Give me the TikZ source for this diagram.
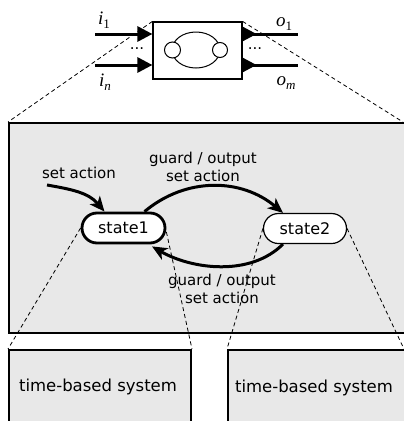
\documentclass[tikz,border=0pt]{standalone}
\usepackage{fontspec}
\setmainfont{DejaVu Sans}
\newfontfamily\tms{Liberation Serif}
\usetikzlibrary{arrows.meta}
\definecolor{panel}{HTML}{E8E8E8}
\newcommand{\iolab}[2]{{\tms\fontsize{19}{20}\selectfont\itshape #1}\raisebox{-4.5pt}{\tms\fontsize{13}{14}\selectfont #2}}
\begin{document}
\begin{tikzpicture}[x=1pt,y=1pt,
  lab/.style={font=\fontsize{15}{18}\selectfont, align=center, inner sep=0},
  mlab/.style={inner sep=0},
  dsh/.style={dash pattern=on 4pt off 3pt, line width=0.8pt},
  statebox/.style={draw, fill=white, rounded corners=15pt, minimum width=83pt, minimum height=30pt, inner sep=0, font=\fontsize{16}{16}\selectfont},
  boxframe/.style={draw, fill=panel, line width=2pt},
  ioline/.style={line width=3pt},
  ioarrow/.style={line width=3pt, -{Triangle[length=15pt,width=15pt]}},
  flow/.style={line width=3pt, -{Stealth[length=15pt,width=13pt,inset=4pt]}}]
\useasboundingbox (0,0) rectangle (404,-421);

% top block
\node[draw, line width=1.2pt, fill=white, minimum width=89pt, minimum height=57pt, inner sep=0] (blk) at (197.5,-50.5) {};
\draw[line width=1pt] (196,-50) ellipse [x radius=24, y radius=18];
\node[circle, draw, line width=1pt, fill=white, minimum size=16pt, inner sep=0] (c1) at (172.5,-50) {};
\node[circle, draw, line width=1pt, fill=white, minimum size=15pt, inner sep=0] (c2) at (220,-50) {};

\coordinate (in1) at (95,-34);
\coordinate (inn) at (95,-65);
\coordinate (out1) at (298,-34);
\coordinate (outm) at (298,-65);
\draw[ioarrow] (in1) -- (blk.west |- in1);
\draw[ioarrow] (inn) -- (blk.west |- inn);
\draw[ioline] (blk.east |- out1) -- (out1);
\draw[ioline] (blk.east |- outm) -- (outm);
\draw[ioarrow] (blk.east |- out1) -- ++(14,0);
\draw[ioarrow] (blk.east |- outm) -- ++(14,0);

\node[mlab] (li1) at (104,-20) {\iolab{i}{1}};
\node[mlab] (lin) at (105,-82) {\iolab{i}{\itshape n}};
\node[mlab] (lo1) at (284,-24) {\iolab{o}{1}};
\node[mlab] (lom) at (286,-83) {\iolab{o}{\itshape m}};
\node[lab] (dl) at (137,-49) {...};
\node[lab] (dr) at (255,-49) {...};

% panels
\node[boxframe, minimum width=402pt, minimum height=210pt, anchor=north west, inner sep=0] (pan) at (8,-122) {};
\node[boxframe, minimum width=182pt, minimum height=90pt, anchor=north west, inner sep=0] (lb) at (8,-349) {};
\node[boxframe, minimum width=190pt, minimum height=90pt, anchor=north west, inner sep=0] (rb) at (227,-349) {};
\node[font=\fontsize{16.5}{18}\selectfont, inner sep=0] (lbt) at (98,-387) {time-based system};
\node[font=\fontsize{16.5}{18}\selectfont, inner sep=0] (rbt) at (314,-388) {time-based system};

\coordinate (pcr) at (403,-122);
\coordinate (rbc) at (404,-349);
\draw[dsh] (blk.north west) -- (pan.north west);
\draw[dsh] (blk.north east) -- (pcr);

% states
\node[statebox, line width=2.8pt] (s1) at (123.5,-228) {state1};
\node[statebox, line width=1.2pt] (s2) at (305,-228.5) {state2};

\draw[dsh] (s1.west) -- (lb.north west);
\draw[dsh] ([yshift=-4pt]s1.east) -- (lb.north east);
\draw[dsh] (s2.west) -- (rb.north west);
\draw[dsh] (s2.east) -- (rbc);

\coordinate (sa) at (47,-185);
\draw[flow] (sa) to[out=-10,in=130] ([xshift=-19pt]s1.north);
\draw[flow] ([xshift=21pt]s1.north) to[out=40,in=140] ([xshift=-22pt]s2.north);
\draw[flow] ([xshift=-22pt]s2.south) to[out=-135,in=-30,looseness=0.9] ([xshift=28.5pt,yshift=-2pt]s1.south);

\node[lab] (l0) at (79,-173) {set action};
\node[lab] (l1) at (203,-167) {guard / output\\set action};
\node[lab] (l2) at (222,-289) {guard / output\\set action};
\end{tikzpicture}
\end{document}
